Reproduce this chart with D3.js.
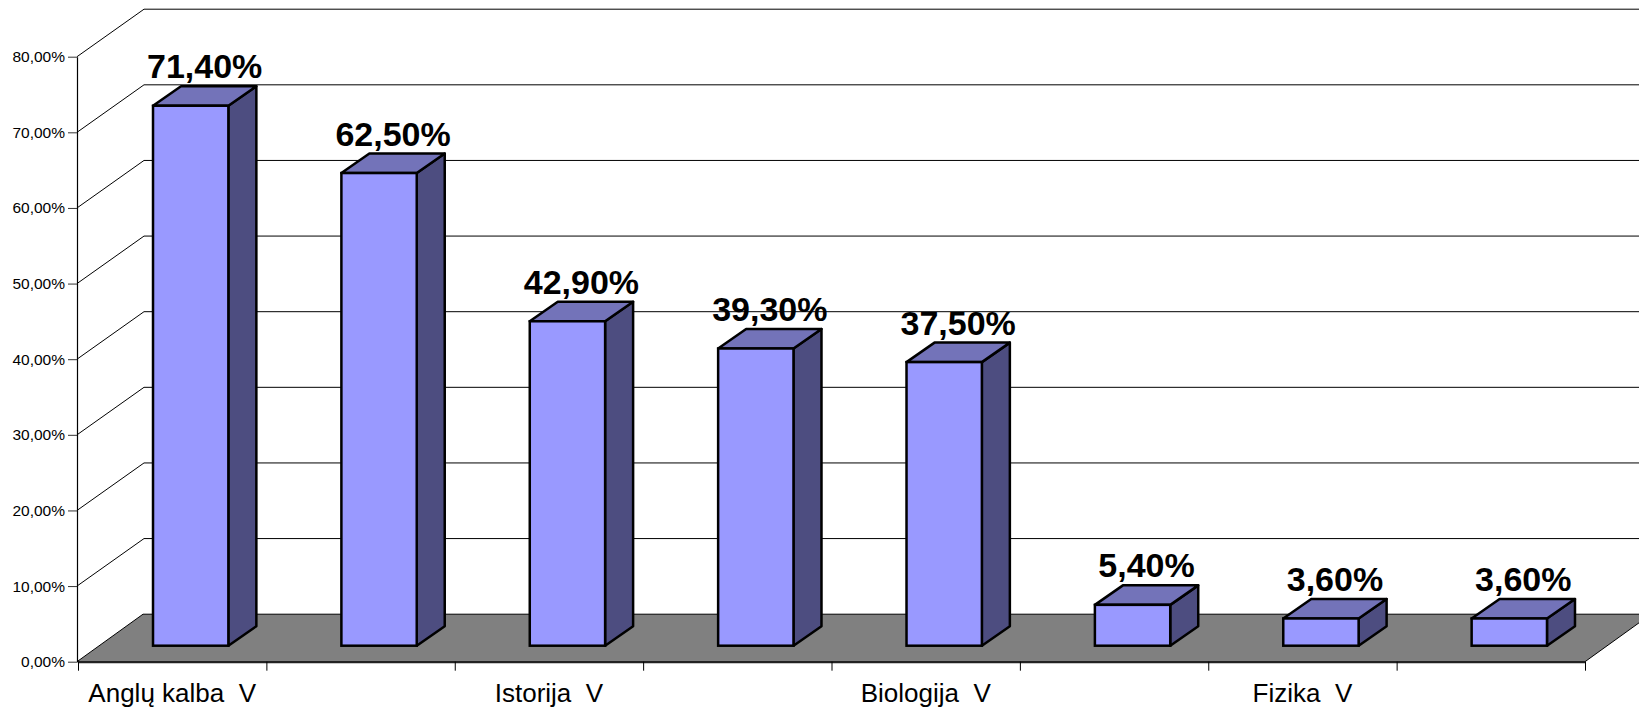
<!DOCTYPE html>
<html>
<head>
<meta charset="utf-8">
<script src="https://cdn.jsdelivr.net/npm/d3@7"></script>
<style>
  html, body { margin: 0; padding: 0; background: #fff; }
  svg { display: block; }
  text { font-family: "Liberation Sans", Arial, sans-serif; }
</style>
</head>
<body>
<svg id="chart" width="1639" height="710"></svg>
<script>
// ---- data ----
// Only every other category label is visible in the original (the rest were hidden by the chart).
const categories = ["Anglų kalba  V", "", "Istorija  V", "", "Biologija  V", "", "Fizika  V", ""];
const values = [71.4, 62.5, 42.9, 39.3, 37.5, 5.4, 3.6, 3.6];
const yTicks = [0, 10, 20, 30, 40, 50, 60, 70, 80];

// ---- layout ----
const W = 1639, H = 710;
const x0 = 78, x1 = 1585;            // front edge of floor
const yBottom = 661.7, yTop = 56.7;   // 0% and 80% on the front plane
const depthX = 66, depthY = -47.5;    // wall depth projection
const barOffX = 18.5, barOffY = -16;  // bar front face offset from front plane
const barDX = 28, barDY = -19.5;      // bar depth

const svg = d3.select("#chart");
const locale = d3.formatLocale({decimal: ",", thousands: " ", grouping: [3], currency: ["", ""]});
const f2 = locale.format(".2f");

const keys = categories.map((c, i) => i);
const y = d3.scaleLinear().domain([0, 80]).range([yBottom, yTop]);
const xb = d3.scaleBand().domain(keys).range([x0, x1]).paddingInner(0.6).paddingOuter(0.3);
const xc = d3.scaleBand().domain(keys).range([x0, x1]).padding(0);
const xEdge = d3.scaleLinear().domain([0, keys.length]).range([x0, x1]);

// back wall gridlines
const g = svg.append("g");
g.selectAll("line.back").data(yTicks.filter(t => t > 0)).join("line")
  .attr("x1", x0 + depthX).attr("x2", W + 20)
  .attr("y1", d => y(d) + depthY).attr("y2", d => y(d) + depthY)
  .attr("stroke", "#000").attr("stroke-width", 1);
// side wall diagonals
g.selectAll("line.side").data(yTicks.filter(t => t > 0)).join("line")
  .attr("x1", x0 - 1).attr("y1", d => y(d))
  .attr("x2", x0 + depthX).attr("y2", d => y(d) + depthY)
  .attr("stroke", "#000").attr("stroke-width", 1);

// floor
const floorPts = [[x0 - 1, y(0)], [x1, y(0)], [x1 + depthX, y(0) + depthY], [x0 + depthX - 1, y(0) + depthY]];
svg.append("path").attr("d", "M" + floorPts.map(p => p.join(",")).join("L") + "Z")
  .attr("fill", "#808080").attr("stroke", "#000").attr("stroke-width", 1);

// y axis
const yAxis = d3.axisLeft(y).tickValues(yTicks).tickSize(9).tickSizeOuter(0)
  .tickFormat(d => f2(d) + "%");
const ya = svg.append("g").attr("transform", `translate(${x0 - 1},0)`).call(yAxis);
ya.select(".domain").attr("stroke", "#000").attr("stroke-width", 1.2);
ya.selectAll(".tick line").attr("stroke", "#333");
ya.selectAll(".tick text").attr("font-size", 15.5).attr("fill", "#000")
  .attr("font-family", "'Liberation Sans', Arial, sans-serif").attr("x", -12);

// x axis ticks at category boundaries
const xAxis = d3.axisBottom(xEdge).tickValues(d3.range(keys.length + 1)).tickSize(9).tickSizeOuter(0).tickFormat("");
const xa = svg.append("g").attr("transform", `translate(0,${y(0)})`).call(xAxis);
xa.select(".domain").attr("stroke", "#222").attr("stroke-width", 2.2);
xa.selectAll(".tick line").attr("stroke", "#000");

// category labels
svg.append("g").selectAll("text").data(keys).join("text")
  .attr("x", d => xc(d) + xc.bandwidth() / 2)
  .attr("y", 701.5)
  .attr("text-anchor", "middle")
  .attr("font-size", 26)
  .style("white-space", "pre")
  .attr("fill", "#000")
  .text(d => categories[d]);

// bars
const bw = xb.bandwidth();
const bars = svg.append("g").selectAll("g").data(keys).join("g");
const fx = d => xb(d) + barOffX;
const fyB = () => y(0) + barOffY;
const fyT = d => y(values[d]) + barOffY;
const pathStr = pts => "M" + pts.map(p => p.join(",")).join("L") + "Z";
// side
bars.append("path").attr("d", d => pathStr([
    [fx(d) + bw, fyT(d)], [fx(d) + bw + barDX, fyT(d) + barDY],
    [fx(d) + bw + barDX, fyB() + barDY], [fx(d) + bw, fyB()]]))
  .attr("fill", "#4D4D80").attr("stroke", "#000").attr("stroke-width", 2.5).attr("stroke-linejoin", "round");
// top
bars.append("path").attr("d", d => pathStr([
    [fx(d), fyT(d)], [fx(d) + barDX, fyT(d) + barDY],
    [fx(d) + bw + barDX, fyT(d) + barDY], [fx(d) + bw, fyT(d)]]))
  .attr("fill", "#7373B9").attr("stroke", "#000").attr("stroke-width", 2.5).attr("stroke-linejoin", "round");
// front
bars.append("rect")
  .attr("x", d => fx(d)).attr("y", d => fyT(d))
  .attr("width", bw).attr("height", d => fyB() - fyT(d))
  .attr("fill", "#9999FF").attr("stroke", "#000").attr("stroke-width", 2.5);

// value labels
svg.append("g").selectAll("text").data(keys).join("text")
  .attr("x", d => fx(d) + bw / 2 + barDX / 2)
  .attr("y", d => fyT(d) + barDY - 8)
  .attr("text-anchor", "middle")
  .attr("font-size", 34)
  .attr("font-weight", "bold")
  .attr("fill", "#000")
  .text(d => f2(values[d]) + "%");
</script>
</body>
</html>
